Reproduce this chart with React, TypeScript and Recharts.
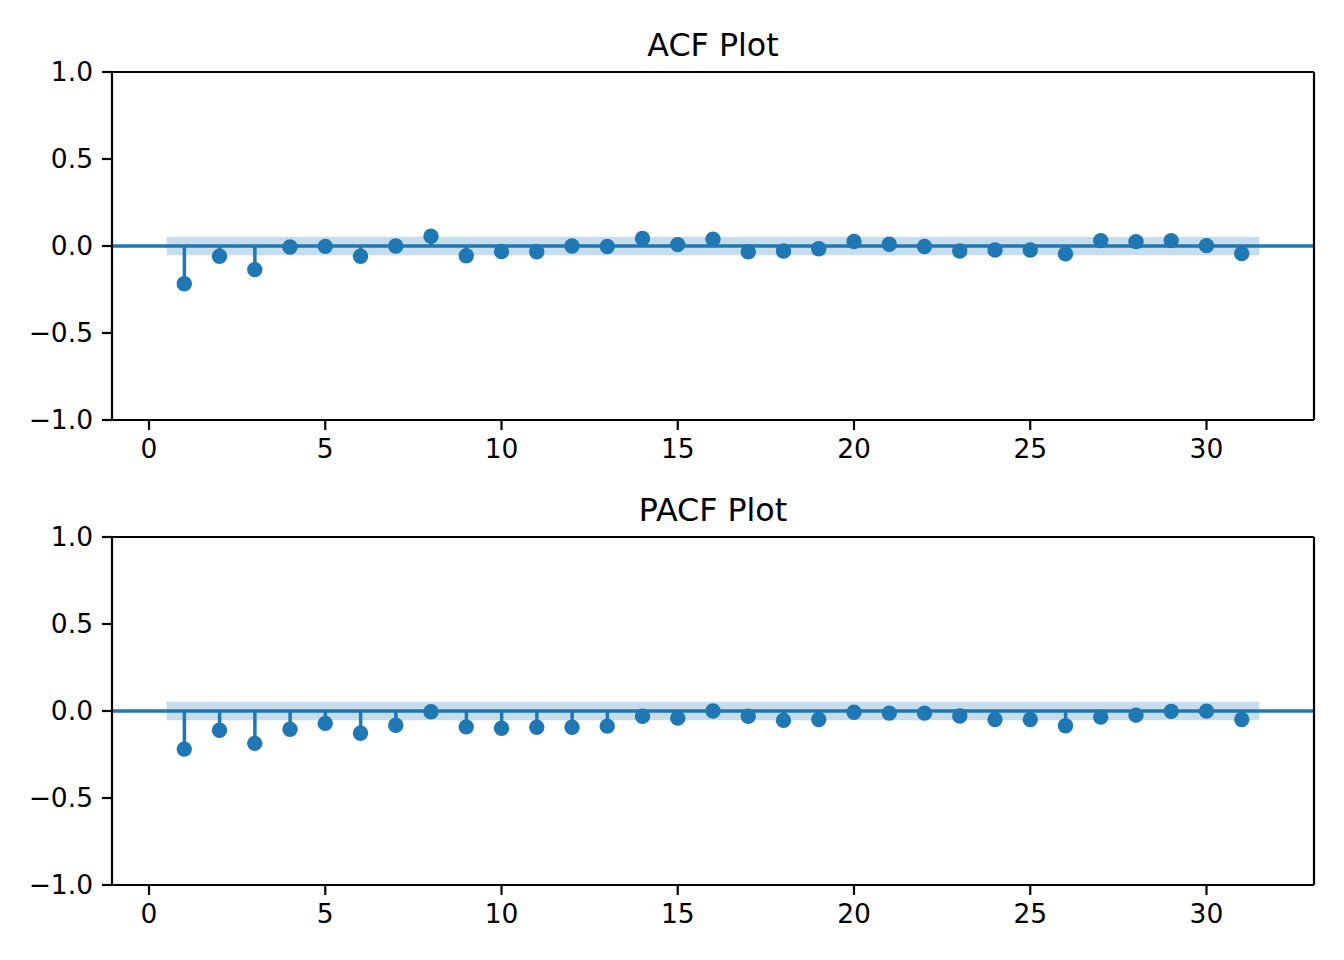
import React from 'react';
import {
  ComposedChart,
  Bar,
  Scatter,
  XAxis,
  YAxis,
  ReferenceArea,
  ReferenceLine,
} from 'recharts';

// lags shown (zero lag omitted)
const lags = [1, 2, 3, 4, 5, 6, 7, 8, 9, 10, 11, 12, 13, 14, 15, 16, 17, 18, 19, 20, 21, 22, 23, 24, 25, 26, 27, 28, 29, 30, 31];

const acfValues = [
  -0.217, -0.059, -0.136, -0.006, -0.002, -0.059, 0.0, 0.056, -0.056, -0.032,
  -0.033, 0.0, -0.003, 0.043, 0.008, 0.039, -0.034, -0.029, -0.016, 0.026,
  0.01, -0.003, -0.029, -0.023, -0.023, -0.045, 0.031, 0.025, 0.031, 0.002, -0.044,
];

const pacfValues = [
  -0.219, -0.111, -0.186, -0.105, -0.071, -0.128, -0.082, -0.004, -0.091, -0.099,
  -0.093, -0.093, -0.087, -0.03, -0.041, 0.0, -0.03, -0.054, -0.049, -0.007,
  -0.012, -0.012, -0.029, -0.049, -0.049, -0.085, -0.035, -0.024, -0.002, -0.001, -0.049,
];

// confidence band (±) and its lag extent
const confLimit = 0.053;
const bandLags = [0.5, 31.5];

const xDomain = [-1.05, 33.05];
const yDomain = [-1, 1];
const xTicks = [0, 5, 10, 15, 20, 25, 30];
const yTicks = [-1, -0.5, 0, 0.5, 1];

const BLUE = '#1f77b4';
const FONT = "'DejaVu Sans', sans-serif";
const tickStyle = { fill: '#000', fontSize: 26.5, fontFamily: FONT };

const fmtY = (v: number) => v.toFixed(1).replace('-', '\u2212');

const Dot = (props: any) => {
  const { cx, cy } = props;
  if (cx == null || cy == null) return null;
  return <circle cx={cx} cy={cy} r={7.7} fill={BLUE} />;
};

interface PanelProps {
  title: string;
  values: number[];
  top: number;
}

const Panel: React.FC<PanelProps> = ({ title, values, top }) => {
  const data = lags.map((lag, i) => ({ lag, value: values[i] }));
  return (
    <div style={{ position: 'absolute', left: 0, top, width: 1344, height: 480 }}>
      <div
        style={{
          position: 'absolute',
          left: 112,
          width: 1202,
          top: 30,
          textAlign: 'center',
          fontFamily: FONT,
          fontSize: 31.7,
          lineHeight: 1,
          color: '#000',
        }}
      >
        {title}
      </div>
      <ComposedChart
        width={1344}
        height={480}
        data={data}
        margin={{ top: 72, right: 30, bottom: 10, left: 0 }}
      >
        <XAxis
          dataKey="lag"
          type="number"
          domain={xDomain}
          ticks={xTicks}
          allowDataOverflow
          height={50}
          stroke="#000"
          strokeWidth={2.2}
          tickSize={10}
          tickMargin={9}
          tick={tickStyle}
        />
        <YAxis
          type="number"
          domain={yDomain}
          ticks={yTicks}
          width={112}
          stroke="#000"
          strokeWidth={2.2}
          tickSize={10}
          tickMargin={9}
          tick={tickStyle}
          tickFormatter={fmtY}
        />
        <ReferenceArea
          x1={bandLags[0]}
          x2={bandLags[1]}
          y1={-confLimit}
          y2={confLimit}
          fill={BLUE}
          fillOpacity={0.25}
          stroke="none"
        />
        <ReferenceLine y={0} stroke={BLUE} strokeWidth={3.5} />
        <Bar dataKey="value" barSize={3.5} fill={BLUE} isAnimationActive={false} />
        <Scatter dataKey="value" shape={<Dot />} fill={BLUE} isAnimationActive={false} />
        {/* top and right spines */}
        <ReferenceLine y={yDomain[1]} stroke="#000" strokeWidth={2.2} />
        <ReferenceLine x={xDomain[1]} stroke="#000" strokeWidth={2.2} />
      </ComposedChart>
    </div>
  );
};

export default function App() {
  return (
    <div
      style={{
        position: 'absolute',
        left: 0,
        top: 0,
        width: 1344,
        height: 960,
        background: '#fff',
      }}
    >
      <Panel title="ACF Plot" values={acfValues} top={0} />
      <Panel title="PACF Plot" values={pacfValues} top={465} />
    </div>
  );
}
